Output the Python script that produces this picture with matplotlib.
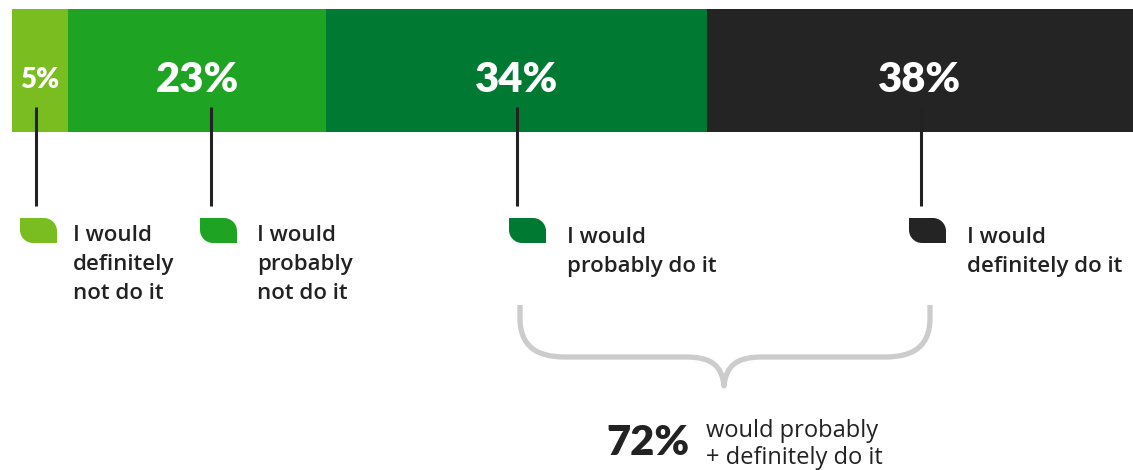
import matplotlib.pyplot as plt
from matplotlib.path import Path
from matplotlib.patches import PathPatch

plt.rcParams['font.family'] = ['Open Sans', 'DejaVu Sans']

values = [5, 23, 34, 38]
labels = ['I would\ndefinitely\nnot do it',
          'I would\nprobably\nnot do it',
          'I would\nprobably do it',
          'I would\ndefinitely do it']
colors = ['#7abd20', '#1fa322', '#007a33', '#242424']
total_value = 72
total_text = 'would probably\n+ definitely do it'

W, H = 1133, 470
fig = plt.figure(figsize=(W / 100, H / 100), dpi=100)

# the stacked bar, in percent units
ax = fig.add_axes([12 / W, 1 - 132 / H, (W - 12) / W, 123 / H])
lefts = [sum(values[:i]) for i in range(len(values))]
ax.barh(0, values, left=lefts, color=colors, height=1)
ax.set_xlim(0, 100)
ax.set_ylim(-0.5, 0.5)
ax.axis('off')
for l, v in zip(lefts, values):
    ax.text(l + v / 2, -0.08, f'{v}%', ha='center', va='center', color='white',
            fontsize=20 if v < 10 else 30, fontweight='heavy', fontstyle='normal',
            family='Lato')

# overlay in pixel units for the callouts
ov = fig.add_axes([0, 0, 1, 1])
ov.set_xlim(0, W)
ov.set_ylim(H, 0)
ov.axis('off')

line_x = [36, 211, 517, 921]
icon_x = [20, 200, 509, 909]
text_x = [73, 257, 567, 967]
text_y = [225, 225, 227, 227]


def leaf(x, y, w=37, h=25, r=13):
    k = 0.55 * r
    verts = [(x, y), (x + w - r, y),
             (x + w - r + k, y), (x + w, y + r - k), (x + w, y + r),
             (x + w, y + h), (x + r, y + h),
             (x + r - k, y + h), (x, y + h - r + k), (x, y + h - r),
             (x, y)]
    codes = [Path.MOVETO, Path.LINETO,
             Path.CURVE4, Path.CURVE4, Path.CURVE4,
             Path.LINETO, Path.LINETO,
             Path.CURVE4, Path.CURVE4, Path.CURVE4,
             Path.CLOSEPOLY]
    return Path(verts, codes)


for i in range(len(values)):
    ov.plot([line_x[i], line_x[i]], [107, 206], color='#222222', lw=2.2,
            solid_capstyle='butt')
    ov.add_patch(PathPatch(leaf(icon_x[i], 218), facecolor=colors[i], edgecolor='none'))
    ov.text(text_x[i], text_y[i], labels[i], ha='left', va='top', fontsize=16,
            fontweight='semibold', color='#222222', linespacing=1.5)

# brace over probably + definitely
bv = [(520, 305), (520, 318),
      (520, 345), (535, 357), (565, 357),
      (686, 357),
      (712, 357), (722, 366), (724, 386),
      (726, 366), (736, 357), (762, 357),
      (885, 357),
      (915, 357), (930, 345), (930, 318),
      (930, 305)]
bc = [Path.MOVETO, Path.LINETO,
      Path.CURVE4, Path.CURVE4, Path.CURVE4,
      Path.LINETO,
      Path.CURVE4, Path.CURVE4, Path.CURVE4,
      Path.CURVE4, Path.CURVE4, Path.CURVE4,
      Path.LINETO,
      Path.CURVE4, Path.CURVE4, Path.CURVE4,
      Path.LINETO]
ov.add_patch(PathPatch(Path(bv, bc), facecolor='none', edgecolor='#cccccc', lw=3.8,
                       capstyle='butt', joinstyle='round'))

ov.text(690, 455, f'{total_value}%', ha='right', va='baseline', fontsize=30,
        fontweight='heavy', fontstyle='normal', family='Lato', color='#222222')
ov.text(706, 419, total_text, ha='left', va='top', fontsize=17, color='#222222',
        linespacing=1.15)

fig.savefig('out.png', dpi=100)
